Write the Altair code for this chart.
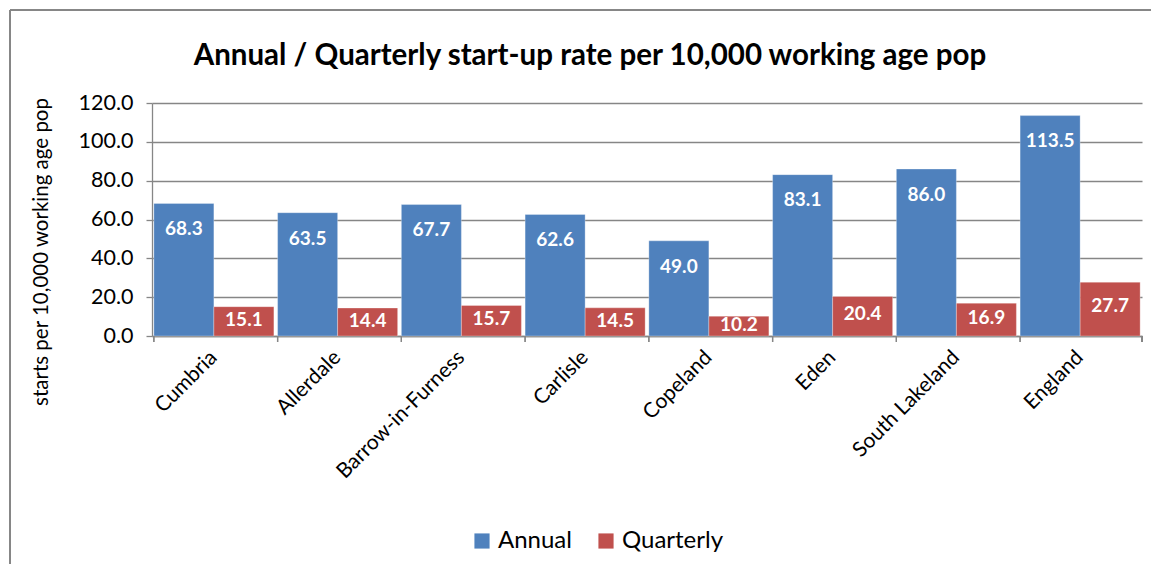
import altair as alt
import pandas as pd

regions = ["Cumbria", "Allerdale", "Barrow-in-Furness", "Carlisle", "Copeland",
           "Eden", "South Lakeland", "England"]
annual = [68.3, 63.5, 67.7, 62.6, 49.0, 83.1, 86.0, 113.5]
quarterly = [15.1, 14.4, 15.7, 14.5, 10.2, 20.4, 16.9, 27.7]
series = ["Annual", "Quarterly"]
colors = ["#4F81BD", "#C0504D"]
y_ticks = [0, 20, 40, 60, 80, 100, 120]

title_text = "Annual / Quarterly start-up rate per 10,000 working age pop"
y_title = "starts per 10,000 working age pop"

FONT = "Lato"
GRAY = "#868686"

rows = []
for r, a, q in zip(regions, annual, quarterly):
    rows.append({"region": r, "series": "Annual", "value": a})
    rows.append({"region": r, "series": "Quarterly", "value": q})
df = pd.DataFrame(rows)

W, H = 990, 233

x_axis = alt.Axis(title=None, labelAngle=-45, labelAlign="right",
                  labelBaseline="middle", labelPadding=18,
                  labelFontSize=21, labelFont=FONT, labelColor="#000000",
                  ticks=False, domainColor=GRAY, domainWidth=1.3,
                  grid=False, labelOverlap=False)
x_scale = alt.Scale(paddingInner=0.03, paddingOuter=0.015)
y_axis = alt.Axis(title=None, values=y_ticks, format=".1f", labelOverlap=False,
                  labelFontSize=21.5, labelFont=FONT, labelColor="#000000",
                  labelPadding=13, tickSize=6, tickColor=GRAY, tickWidth=1.3,
                  domainColor=GRAY, domainWidth=1.3,
                  gridColor=GRAY, gridWidth=1.3)
y_scale = alt.Scale(domain=[0, 120], nice=False)

base = alt.Chart(df)

bars = base.mark_bar(stroke="#FFFFFF", strokeWidth=0.6, strokeOpacity=0.5).encode(
    x=alt.X("region:N", sort=regions, scale=x_scale, axis=x_axis),
    xOffset=alt.XOffset("series:N", sort=series,
                        scale=alt.Scale(paddingInner=0, paddingOuter=0)),
    y=alt.Y("value:Q", scale=y_scale, axis=y_axis),
    color=alt.Color("series:N", sort=series,
                    scale=alt.Scale(domain=series, range=colors),
                    legend=alt.Legend(title=None, orient="none", direction="horizontal",
                                      legendX=318, legendY=426,
                                      symbolType="square", symbolSize=230,
                                      symbolStrokeWidth=0,
                                      labelFontSize=24, labelFont=FONT,
                                      labelColor="#000000", labelOffset=4,
                                      columnPadding=22)),
)

labels = base.transform_calculate(
    pos="max(datum.value - 13.3, datum.value * 0.55)"
).mark_text(font=FONT, fontSize=19, fontWeight="bold", color="white",
            baseline="middle").encode(
    x=alt.X("region:N", sort=regions, scale=x_scale, axis=x_axis),
    xOffset=alt.XOffset("series:N", sort=series),
    y=alt.Y("pos:Q", scale=y_scale, axis=y_axis),
    text=alt.Text("value:Q", format=".1f"),
)

ticks = base.mark_rule(color=GRAY, strokeWidth=1.3).encode(
    x=alt.X("region:N", sort=regions, bandPosition=0),
    y=alt.value(H), y2=alt.value(H + 6),
)
last_tick = base.mark_rule(color=GRAY, strokeWidth=1.3).encode(
    x=alt.value(W), y=alt.value(H), y2=alt.value(H + 6),
)

frame = base.mark_rect(fillOpacity=0, stroke=GRAY, strokeWidth=1).encode(
    x=alt.value(-142), x2=alt.value(1100), y=alt.value(-93), y2=alt.value(700),
)

title = alt.Chart(pd.DataFrame({"t": [title_text]})).mark_text(
    font=FONT, fontSize=29.5, fontWeight="bold", color="#000000", baseline="middle"
).encode(text="t:N", x=alt.value(438), y=alt.value(-47))

ytitle = alt.Chart(pd.DataFrame({"t": [y_title]})).mark_text(
    font=FONT, fontSize=20.5, color="#000000", baseline="middle", angle=270
).encode(text="t:N", x=alt.value(-110), y=alt.value(149))

chart = alt.layer(frame, bars, labels, ticks, last_tick, title, ytitle).properties(
    width=W, height=H,
    autosize=alt.AutoSizeParams(type="none"),
    padding={"left": 144, "top": 95, "right": 9, "bottom": 228},
    background="white",
).configure_view(stroke=None)

chart.save("out.html", embed_options={"renderer": "svg", "actions": False})
